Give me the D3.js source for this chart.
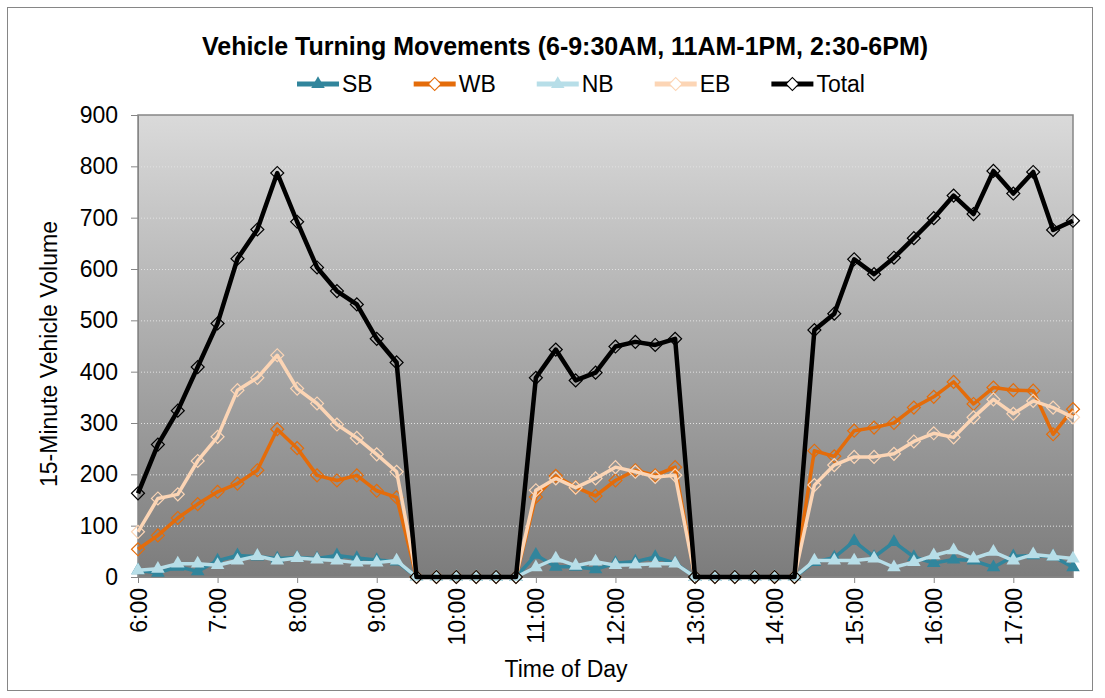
<!DOCTYPE html>
<html lang="en">
<head>
    <meta charset="utf-8"/>
    <title>Vehicle Turning Movements</title>
    <script src="https://d3js.org/d3.v7.min.js"></script>
    <style>
        body { margin: 0; background: #fff; }
        svg { font-family: "Liberation Sans", Arial, sans-serif; }
        .tick text { fill: #000; }
    </style>
</head>
<body>
<svg width="1105" height="698"></svg>

<script type="text/javascript">

    // categorias: cada 15 minutos
    const horas = ["6:00", "6:15", "6:30", "6:45", "7:00", "7:15", "7:30", "7:45",
        "8:00", "8:15", "8:30", "8:45", "9:00", "9:15", "9:30", "9:45",
        "10:00", "10:15", "10:30", "10:45", "11:00", "11:15", "11:30", "11:45",
        "12:00", "12:15", "12:30", "12:45", "13:00", "13:15", "13:30", "13:45",
        "14:00", "14:15", "14:30", "14:45", "15:00", "15:15", "15:30", "15:45",
        "16:00", "16:15", "16:30", "16:45", "17:00", "17:15", "17:30", "17:45"];
    const etiquetasX = ["6:00", "7:00", "8:00", "9:00", "10:00", "11:00",
        "12:00", "13:00", "14:00", "15:00", "16:00", "17:00"];
    const ticksY = [0, 100, 200, 300, 400, 500, 600, 700, 800, 900];

    // valores
    const SB = [13, 8, 20, 11, 32, 42, 40, 36, 38, 36, 42, 37, 33, 30,
        0, 0, 0, 0, 0, 0,
        43, 20, 20, 15, 27, 30, 39, 27,
        0, 0, 0, 0, 0, 0,
        29, 38, 70, 39, 68, 39, 27, 34, 32, 19, 40, 42, 40, 19];
    const WB = [54, 81, 115, 142, 166, 182, 208, 288, 251, 198, 188, 198, 168, 155,
        0, 0, 0, 0, 0, 0,
        156, 197, 175, 158, 188, 208, 198, 214,
        0, 0, 0, 0, 0, 0,
        246, 235, 285, 291, 300, 330, 351, 380, 337, 369, 364, 363, 278, 327];
    const NB = [13, 16, 26, 26, 23, 32, 41, 32, 37, 34, 32, 28, 28, 32,
        0, 0, 0, 0, 0, 0,
        19, 36, 22, 30, 23, 24, 26, 26,
        0, 0, 0, 0, 0, 0,
        32, 32, 32, 36, 19, 29, 42, 52, 36, 49, 32, 44, 40, 36];
    const EB = [88, 153, 161, 226, 273, 364, 388, 432, 367, 338, 297, 271, 239, 205,
        0, 0, 0, 0, 0, 0,
        169, 192, 174, 192, 214, 205, 195, 198,
        0, 0, 0, 0, 0, 0,
        179, 218, 234, 234, 240, 264, 280, 272, 311, 346, 318, 343, 330, 311];
    const Total = [163, 258, 324, 409, 494, 620, 677, 787, 692, 603, 557, 531, 464, 418,
        0, 0, 0, 0, 0, 0,
        388, 443, 383, 398, 449, 458, 452, 464,
        0, 0, 0, 0, 0, 0,
        481, 513, 619, 590, 622, 660, 699, 743, 707, 791, 747, 789, 676, 694];

    const series = [
        {nombre: "SB", valores: SB, color: "#31859C", marca: "tri", ancho: 3.5},
        {nombre: "WB", valores: WB, color: "#E46C0A", marca: "dia", ancho: 3.5},
        {nombre: "NB", valores: NB, color: "#B7DEE8", marca: "tri", ancho: 3.5},
        {nombre: "EB", valores: EB, color: "#FCD5B5", marca: "dia", ancho: 3.5},
        {nombre: "Total", valores: Total, color: "#000000", marca: "dia", ancho: 4.5}
    ];

    const gris = "#868686";
    const izq = 138, der = 1073, arriba = 115, abajo = 577;

    let svg = d3.select("svg");

    // escalas
    let escalaX = d3.scalePoint().domain(horas).range([izq, der]);
    let escalaY = d3.scaleLinear().domain([0, 900]).range([abajo, arriba]);

    // degradado del fondo
    let grad = svg.append("defs").append("linearGradient")
        .attr("id", "fondo")
        .attr("x1", 0).attr("y1", 0).attr("x2", 0).attr("y2", 1);
    grad.append("stop").attr("offset", "0%").attr("stop-color", "#dadada");
    grad.append("stop").attr("offset", "100%").attr("stop-color", "#7c7c7c");

    // borde del grafico
    svg.append("rect")
        .attr("x", 7.5).attr("y", 7.5)
        .attr("width", 1085).attr("height", 683)
        .attr("fill", "#fff")
        .attr("stroke", gris);

    // area de trazado
    svg.append("rect")
        .attr("x", izq).attr("y", arriba)
        .attr("width", der - izq).attr("height", abajo - arriba)
        .attr("fill", "url(#fondo)");

    // lineas guia punteadas
    svg.append("g")
        .attr("transform", "translate(" + izq + ",0)")
        .call(d3.axisLeft(escalaY)
            .tickValues(ticksY.filter(d => d > 0 && d < 900))
            .tickSize(-(der - izq))
            .tickFormat(""))
        .call(g => g.select(".domain").remove())
        .selectAll("line")
        .attr("stroke", "#e2e2e2")
        .attr("stroke-dasharray", "1,2");

    svg.append("rect")
        .attr("x", izq).attr("y", arriba)
        .attr("width", der - izq).attr("height", abajo - arriba)
        .attr("fill", "none")
        .attr("stroke", gris)
        .attr("stroke-width", 1.5);

    // eje y
    svg.append("g")
        .attr("transform", "translate(" + izq + ",0)")
        .style("font-size", "23px")
        .style("font-family", "Liberation Sans, Arial, sans-serif")
        .call(d3.axisLeft(escalaY).tickValues(ticksY).tickSize(7).tickPadding(13).tickSizeOuter(0))
        .call(g => g.selectAll("line, path").attr("stroke", gris));

    // eje x, etiquetas giradas
    svg.append("g")
        .attr("transform", "translate(0," + abajo + ")")
        .style("font-size", "23px")
        .style("font-family", "Liberation Sans, Arial, sans-serif")
        .call(d3.axisBottom(escalaX).tickValues(etiquetasX).tickSize(6).tickSizeOuter(0))
        .call(g => g.selectAll("line, path").attr("stroke", gris))
        .selectAll("text")
        .attr("transform", "rotate(-90)")
        .attr("x", -11)
        .attr("y", 0)
        .attr("dy", "0.35em")
        .attr("text-anchor", "end");

    // titulos
    svg.append("text")
        .attr("x", 565).attr("y", 55)
        .attr("text-anchor", "middle")
        .style("font-size", "25px")
        .style("font-weight", "bold")
        .text("Vehicle Turning Movements (6-9:30AM, 11AM-1PM, 2:30-6PM)");

    svg.append("text")
        .attr("x", 566).attr("y", 677)
        .attr("text-anchor", "middle")
        .style("font-size", "23px")
        .text("Time of Day");

    svg.append("text")
        .attr("transform", "translate(57,354) rotate(-90)")
        .attr("text-anchor", "middle")
        .style("font-size", "23px")
        .text("15-Minute Vehicle Volume");

    // marcadores
    const diamante = d3.symbol(d3.symbolSquare, 84);
    const triangulo = d3.symbol(d3.symbolTriangle, 80);

    let linea = d3.line()
        .x((d, i) => escalaX(horas[i]))
        .y(d => escalaY(d));

    series.forEach(s => {
        let g = svg.append("g").attr("class", "serie-" + s.nombre);

        g.append("path")
            .attr("d", linea(s.valores))
            .attr("fill", "none")
            .attr("stroke", s.color)
            .attr("stroke-width", s.ancho)
            .attr("stroke-linejoin", "round");

        let marcas = g.selectAll("path.marca")
            .data(s.valores).enter()
            .append("path")
            .attr("class", "marca");

        if (s.marca === "dia") {
            marcas.attr("d", diamante())
                .attr("transform", (d, i) => "translate(" + escalaX(horas[i]) + "," + escalaY(d) + ") rotate(45)")
                .attr("fill", "none")
                .attr("stroke", s.color)
                .attr("stroke-width", 1.2);
        } else {
            marcas.attr("d", triangulo())
                .attr("transform", (d, i) => "translate(" + escalaX(horas[i]) + "," + escalaY(d) + ")")
                .attr("fill", s.color);
        }
    });

    // leyenda
    let leyenda = svg.append("g").attr("transform", "translate(297,84)");
    let xl = 0;
    series.forEach(s => {
        let item = leyenda.append("g").attr("transform", "translate(" + xl + ",0)");
        item.append("line")
            .attr("x1", 0).attr("x2", 42)
            .attr("stroke", s.color)
            .attr("stroke-width", 5);
        if (s.marca === "dia") {
            item.append("path")
                .attr("d", diamante())
                .attr("transform", "translate(21,0) rotate(45)")
                .attr("fill", "#fff")
                .attr("stroke", s.color)
                .attr("stroke-width", 1.2);
        } else {
            item.append("path")
                .attr("d", triangulo())
                .attr("transform", "translate(21,0)")
                .attr("fill", s.color);
        }
        let t = item.append("text")
            .attr("x", 45).attr("dy", "0.35em")
            .style("font-size", "23px")
            .text(s.nombre);
        xl += 45 + t.node().getComputedTextLength() + 41;
    });

</script>
</body>
</html>
